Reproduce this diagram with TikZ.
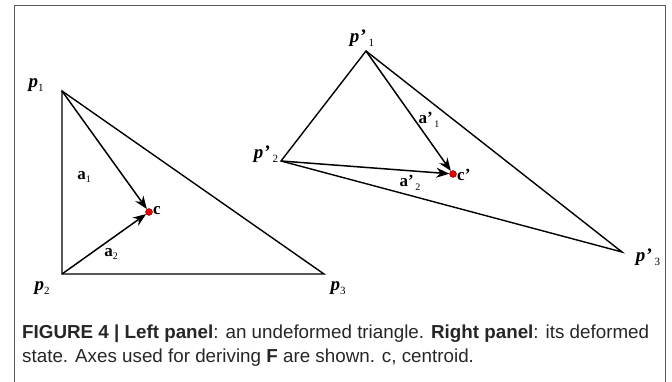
\documentclass[tikz,border=0pt]{standalone}
\usepackage{fontspec}
\setmainfont{Liberation Serif}
\newfontfamily\capfont{Liberation Sans}
\usetikzlibrary{arrows.meta}

% vertex labels: bold italic letter, small upright index
\newcommand{\vlab}[2]{\textbf{\textit{#1}}\raisebox{-0.45ex}{\fontsize{11}{11}\selectfont #2}}
\newcommand{\vlabd}[2]{\textbf{\textit{#1}}\kern1pt\textbf{’}\kern2pt\raisebox{-0.45ex}{\fontsize{11}{11}\selectfont #2}}
\newcommand{\alab}[2]{\textbf{#1}\raisebox{-0.45ex}{\fontsize{10}{10}\selectfont #2}}
\newcommand{\alabd}[2]{\textbf{#1}\textbf{’}\kern1.5pt\raisebox{-0.45ex}{\fontsize{10}{10}\selectfont #2}}

\begin{document}
\begin{tikzpicture}[
    x=1pt, y=-1pt,
    frame/.style={draw=black!65, line width=0.8pt},
    edge/.style={line width=1.4pt, line join=miter},
    vec/.style={line width=1.5pt, -{Stealth[length=13pt,width=10pt]}},
    cdot/.style={
        circle, fill=red!90!black, draw=red!50!black,
        line width=0.4pt, inner sep=0pt, minimum size=7pt
    },
    vlabel/.style={font=\fontsize{19}{19}\selectfont, inner sep=0pt},
    alabel/.style={font=\fontsize{17}{17}\selectfont, inner sep=0pt},
    caption/.style={
        font=\capfont\fontsize{18.8}{24}\selectfont,
        align=left, inner sep=0pt, text=black!85
    }
]
\useasboundingbox (0,0) rectangle (672,382);

% Rahmen
\draw[frame] (14,392) -- (14,5) -- (665,5) -- (665,392);

% linkes Dreieck (undeformiert)
\coordinate (p1) at (62,91);
\coordinate (p2) at (62,274);
\coordinate (p3) at (324,274);
\node[cdot] (c) at (149,212) {};

\draw[edge] (p1) -- (p2) -- (p3) -- cycle;
\draw[vec] (p1) -- (c);
\draw[vec] (p2) -- (c);

\node[vlabel] (lp1) at (36,85)  {\vlab{p}{1}};
\node[vlabel] (lp2) at (42,288) {\vlab{p}{2}};
\node[vlabel] (lp3) at (338,288) {\vlab{p}{3}};
\node[alabel] (la1) at (84,177) {\alab{a}{1}};
\node[alabel] (la2) at (111,254) {\alab{a}{2}};
\node[alabel, anchor=west] (lc) at (153,211) {\textbf{c}};

% rechtes Dreieck (deformiert)
\coordinate (q1) at (366,51);
\coordinate (q2) at (281,161);
\coordinate (q3) at (622,252);
\node[cdot] (cq) at (453,174) {};

\draw[edge] (q1) -- (q2) -- (q3) -- cycle;
\draw[vec] (q1) -- (cq);
\draw[vec] (q2) -- (cq);

\node[vlabel] (lq1) at (362,38)  {\vlabd{p}{1}};
\node[vlabel] (lq2) at (266,154) {\vlabd{p}{2}};
\node[vlabel] (lq3) at (648,257) {\vlabd{p}{3}};
\node[alabel] (la1q) at (429,120) {\alabd{a}{1}};
\node[alabel] (la2q) at (410,183) {\alabd{a}{2}};
\node[alabel, anchor=west] (lcq) at (457,175) {\textbf{c’}};

% Bildunterschrift
\node[caption, anchor=north west] (cap) at (22,325)
    {\textbf{FIGURE 4 | Left panel}: an undeformed triangle. \textbf{Right panel}: its deformed\\
     state. Axes used for deriving \textbf{F} are shown. c, centroid.};

\end{tikzpicture}
\end{document}
